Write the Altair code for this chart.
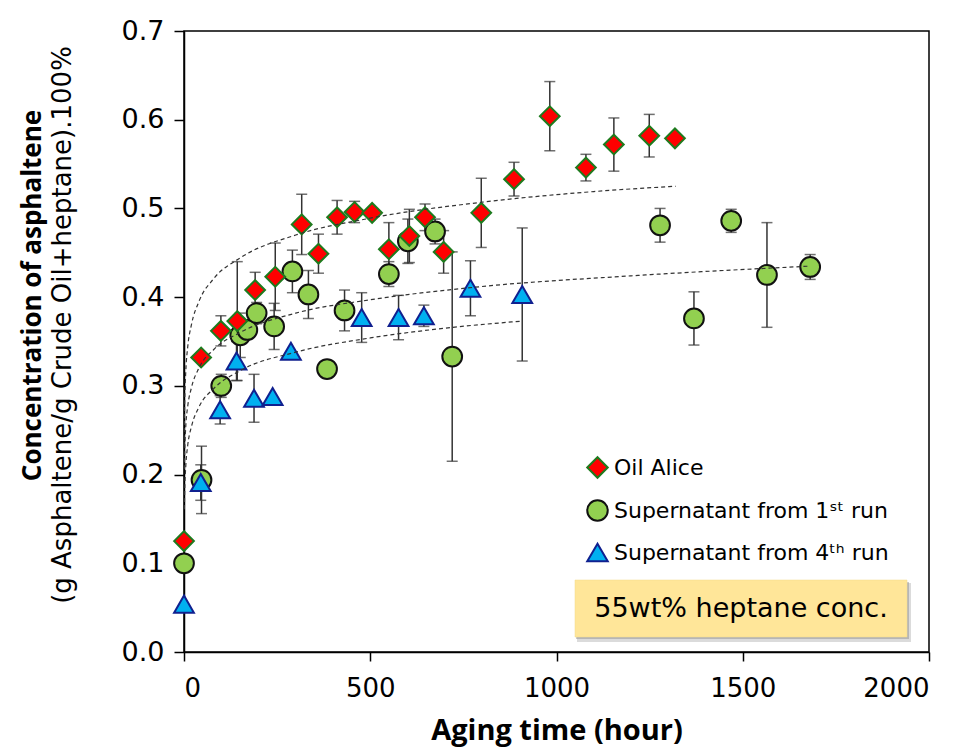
import altair as alt
import pandas as pd

# ---- data ----
alice_x = [0, 46, 99, 143, 191, 245, 316, 361, 411, 458, 505, 550, 605, 647, 697, 798, 886, 982, 1079, 1154, 1249, 1318]
alice_y = [0.125, 0.332, 0.362, 0.373, 0.408, 0.423, 0.482, 0.449, 0.490, 0.496, 0.495, 0.454, 0.469, 0.490, 0.451, 0.495, 0.533, 0.604, 0.546, 0.572, 0.582, 0.579]
alice_e = [0, 0, 0.017, 0.067, 0.020, 0.038, 0.034, 0.022, 0.019, 0.012, 0, 0.030, 0.030, 0.015, 0.024, 0.039, 0.019, 0.039, 0.015, 0.030, 0.024, 0]

run1_x = [0, 47, 100, 151, 170, 195, 242, 291, 334, 384, 431, 550, 601, 674, 720, 1278, 1369, 1469, 1565, 1681]
run1_y = [0.100, 0.194, 0.300, 0.357, 0.363, 0.382, 0.367, 0.429, 0.403, 0.319, 0.385, 0.426, 0.463, 0.474, 0.333, 0.481, 0.376, 0.486, 0.425, 0.434]
run1_e = [0, 0.038, 0.013, 0.025, 0.010, 0.012, 0.026, 0.024, 0.027, 0, 0.023, 0.014, 0.025, 0.014, 0.118, 0.019, 0.030, 0.013, 0.059, 0.014]

run4_x = [0, 45, 97, 141, 188, 238, 287, 477, 576, 644, 769, 908]
run4_y = [0.054, 0.191, 0.273, 0.328, 0.286, 0.288, 0.339, 0.377, 0.377, 0.379, 0.410, 0.403]
run4_e = [0, 0.020, 0.016, 0.022, 0.027, 0, 0, 0.028, 0.025, 0.012, 0.031, 0.075]

# dashed trend curves
trend_alice_x = [0.5, 1, 2, 5, 10, 20, 40, 80, 150, 300, 500, 800, 1100, 1320]
trend_alice_y = [0.232, 0.258, 0.284, 0.318, 0.344, 0.369, 0.395, 0.421, 0.444, 0.470, 0.489, 0.507, 0.519, 0.525]
trend_run1_x = [1, 2, 5, 10, 20, 40, 80, 150, 300, 500, 800, 1200, 1681]
trend_run1_y = [0.206, 0.227, 0.256, 0.277, 0.298, 0.320, 0.341, 0.360, 0.382, 0.397, 0.412, 0.424, 0.435]
trend_run4_x = [1, 2, 5, 10, 20, 40, 80, 150, 300, 500, 700, 908]
trend_run4_y = [0.161, 0.183, 0.211, 0.233, 0.254, 0.276, 0.297, 0.317, 0.338, 0.354, 0.365, 0.373]

series_names = ["Oil Alice", "Supernatant from 1\u02e2\u1d57 run", "Supernatant from 4\u1d57\u02b0 run"]
x_ticks = [0, 500, 1000, 1500, 2000]
y_ticks = [0.0, 0.1, 0.2, 0.3, 0.4, 0.5, 0.6, 0.7]
y_title = "Concentration of asphaltene"
y_subtitle = "(g Asphaltene/g Crude Oil+heptane).100%"
note_text = "55wt% heptane conc."


def frame(name, xs, ys, es):
    return pd.DataFrame({
        "series": name,
        "x": xs,
        "y": ys,
        "lo": [y - e for y, e in zip(ys, es)],
        "hi": [y + e for y, e in zip(ys, es)],
        "e": es,
    })


pts = pd.concat([
    frame(series_names[1], run1_x, run1_y, run1_e),
    frame(series_names[2], run4_x, run4_y, run4_e),
    frame(series_names[0], alice_x, alice_y, alice_e),
], ignore_index=True)
err_df = pts[pts["e"] > 0]

trend_df = pd.concat([
    pd.DataFrame({"series": "a", "x": trend_alice_x, "y": trend_alice_y}),
    pd.DataFrame({"series": "b", "x": trend_run1_x, "y": trend_run1_y}),
    pd.DataFrame({"series": "c", "x": trend_run4_x, "y": trend_run4_y}),
], ignore_index=True)

LABEL_FONT = "DejaVu Sans"
TITLE_FONT = "Open Sans"

xscale = alt.Scale(domain=[0, 2000], nice=False, zero=False)
yscale = alt.Scale(domain=[0, 0.7], nice=False)

xaxis = alt.Axis(values=x_ticks, title="Aging time (hour)", grid=False, format="d",
                 labelFontSize=26, labelFont=LABEL_FONT, labelColor="black", labelPadding=14,
                 tickSize=9, tickColor="black", tickWidth=1.5, domainColor="black", domainWidth=1.5,
                 titleFont=TITLE_FONT, titleFontSize=29, titleFontWeight="bold", titleColor="black",
                 titlePadding=15)
yaxis = alt.Axis(values=y_ticks, title=y_title, grid=False, format=".1f",
                 labelFontSize=27, labelFont=LABEL_FONT, labelColor="black", labelPadding=10,
                 tickSize=10, tickColor="black", tickWidth=1.5, domainColor="black", domainWidth=1.5,
                 titleFont=TITLE_FONT, titleFontSize=26, titleFontWeight="bold", titleColor="black",
                 titleAngle=270, titleAlign="center", titleBaseline="alphabetic",
                 titleX=-144, titleY=264)

legend = alt.Legend(title=None, orient="none", legendX=402, legendY=425,
                    labelFont=LABEL_FONT, labelFontSize=22, labelColor="black", labelLimit=400,
                    symbolSize=420, symbolStrokeWidth=2, rowPadding=14, labelOffset=5)

errbars = alt.Chart(err_df).mark_errorbar(ticks=True, size=11, thickness=1.5, color="#333333").encode(
    x=alt.X("x:Q", scale=xscale, axis=xaxis),
    y=alt.Y("lo:Q", scale=yscale, axis=yaxis),
    y2="hi:Q",
)

points = alt.Chart(pts).mark_point(filled=True, opacity=1, strokeWidth=2, size=390).encode(
    x=alt.X("x:Q", scale=xscale, axis=xaxis),
    y=alt.Y("y:Q", scale=yscale, axis=yaxis),
    shape=alt.Shape("series:N", scale=alt.Scale(domain=series_names, range=["diamond", "circle", "triangle-up"]), legend=legend),
    fill=alt.Fill("series:N", scale=alt.Scale(domain=series_names, range=["#FF0000", "#92D050", "#00B0F0"]), legend=legend),
    stroke=alt.Stroke("series:N", scale=alt.Scale(domain=series_names, range=["#1E7B1E", "#111111", "#10208F"]), legend=legend),
)

trend = alt.Chart(trend_df).mark_line(color="#333333", strokeDash=[4, 3], strokeWidth=1.2, interpolate="monotone").encode(
    x=alt.X("x:Q", scale=xscale, axis=xaxis),
    y=alt.Y("y:Q", scale=yscale, axis=yaxis),
    detail="series:N",
)

one = pd.DataFrame({"t": [note_text], "s": [y_subtitle]})
subtitle = alt.Chart(one).mark_text(font=LABEL_FONT, fontSize=26, color="black", angle=270,
                                    baseline="middle", align="center").encode(
    x=alt.value(-121), y=alt.value(294), text="s:N")
shadow1 = alt.Chart(one).mark_rect(color="#b0b0b0", opacity=0.45).encode(
    x=alt.value(393), x2=alt.value(727), y=alt.value(552), y2=alt.value(611))
shadow2 = alt.Chart(one).mark_rect(color="#8a8a8a", opacity=0.45).encode(
    x=alt.value(392), x2=alt.value(725), y=alt.value(551), y2=alt.value(608))
box = alt.Chart(one).mark_rect(fill="#FFE699", stroke="#F2D98A", strokeWidth=0.5).encode(
    x=alt.value(391), x2=alt.value(723), y=alt.value(549), y2=alt.value(606))
note = alt.Chart(one).mark_text(font=LABEL_FONT, fontSize=27, color="black", baseline="middle", align="center").encode(
    x=alt.value(557), y=alt.value(578), text="t:N")

chart = alt.layer(errbars, points, trend, subtitle, shadow1, shadow2, box, note).properties(
    width=745, height=621,
    padding={"left": 176, "top": 23, "right": 31, "bottom": 100},
    autosize=alt.AutoSizeParams(type="none"),
).configure_view(stroke="black", strokeWidth=1.5)

chart.save("out.html", embed_options={"renderer": "svg", "actions": False})
